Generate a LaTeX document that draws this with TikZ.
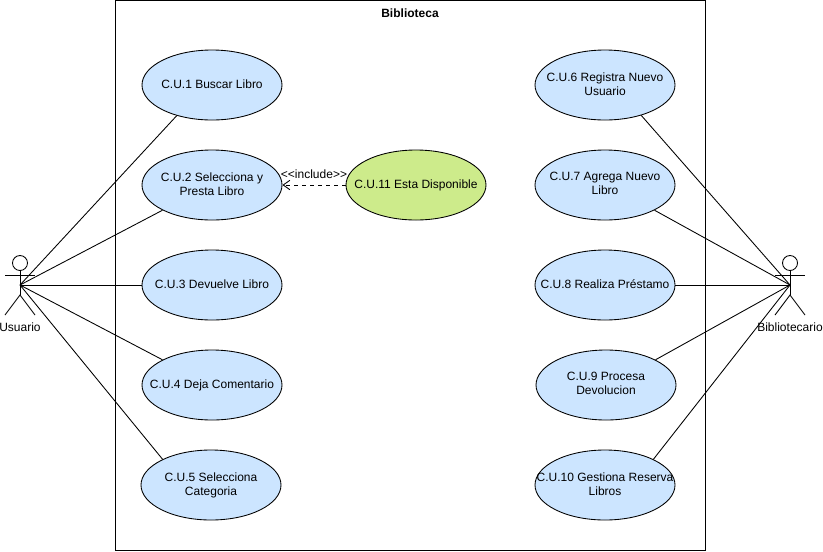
\documentclass[tikz,border=0pt]{standalone}
\usepackage{xcolor}
\usepackage{fontspec}
\setmainfont{Liberation Sans}
\usetikzlibrary{arrows.meta,positioning,shapes.geometric}
\definecolor{ucblue}{HTML}{CCE5FF}
\definecolor{ucgreen}{HTML}{CDEB8B}
\tikzset{
  usecase/.style={draw,ellipse,fill=ucblue,minimum width=105pt,minimum height=52.5pt,inner sep=-30pt,text depth=2pt,align=center,font=\fontsize{9}{10.5}\selectfont},
  actorlabel/.style={inner sep=0pt,font=\fontsize{9}{10.5}\selectfont},
  actorfig/.pic={
    \draw (0,-22) circle (7.5);
    \draw (0,-14.5) -- (0,10);
    \draw (-15,-10) -- (15,-10);
    \draw (-15,30) -- (0,10) -- (15,30);
  }
}
\begin{document}
\begin{tikzpicture}[x=0.75pt,y=-0.75pt,line width=0.65pt]
    \useasboundingbox (0,0) rectangle (823,551);
    \node[draw,minimum width=442.5pt,minimum height=412.5pt,inner sep=0pt] (sys) at (410,275) {};
    \node[font=\fontsize{9}{10.5}\selectfont\bfseries,inner sep=0pt] (systitle) at (410,13) {Biblioteca};
    \node[usecase] (cu1) at (212,85) {C.U.1 Buscar Libro};   \node[usecase] (cu6) at (605,85) {C.U.6 Registra Nuevo\\Usuario};
    \node[usecase] (cu2) at (212,185) {C.U.2 Selecciona y\\Presta Libro}; \node[usecase] (cu7) at (605,185) {C.U.7 Agrega Nuevo\\Libro};
    \node[usecase] (cu3) at (212,285) {C.U.3 Devuelve Libro}; \node[usecase] (cu8) at (605,285) {C.U.8 Realiza Préstamo};
    \node[usecase] (cu4) at (212,385) {C.U.4 Deja Comentario}; \node[usecase] (cu9) at (606,385) {C.U.9 Procesa\\Devolucion};
    \node[usecase] (cu5) at (211,485) {C.U.5 Selecciona\\Categoria}; \node[usecase] (cu10) at (605,485) {C.U.10 Gestiona Reserva\\Libros};
    \node[usecase,fill=ucgreen] (cu11) at (416,185) {C.U.11 Esta Disponible};
    \coordinate (usuario) at (20,285);  \coordinate (biblio) at (790,285);
    \pic at (usuario) {actorfig};       \pic at (biblio) {actorfig};
    \node[actorlabel] (usuariolabel) at (20,327) {Usuario};
    \node[actorlabel] (bibliolabel) at (790,327) {Bibliotecario};
    \draw (usuario) -- (cu1.221);
    \draw (usuario) -- (cu2.207);
    \draw (usuario) -- (cu3.west);
    \draw (usuario) -- (cu4.153);
    \draw (usuario) -- (cu5.152);
    \draw (biblio) -- (cu6.-40);
    \draw (biblio) -- (cu7.-27);
    \draw (biblio) -- (cu8.east);
    \draw (biblio) -- (cu9.27);
    \draw (biblio) -- (cu10.28);
    \draw[dashed,-{Straight Barb[length=5pt,width=7pt]}] (cu11.west) -- node[above=4.5pt,inner sep=0pt,font=\fontsize{9}{10.5}\selectfont]{<{}<include>{}>} (cu2.east);
  \end{tikzpicture}
\end{document}
